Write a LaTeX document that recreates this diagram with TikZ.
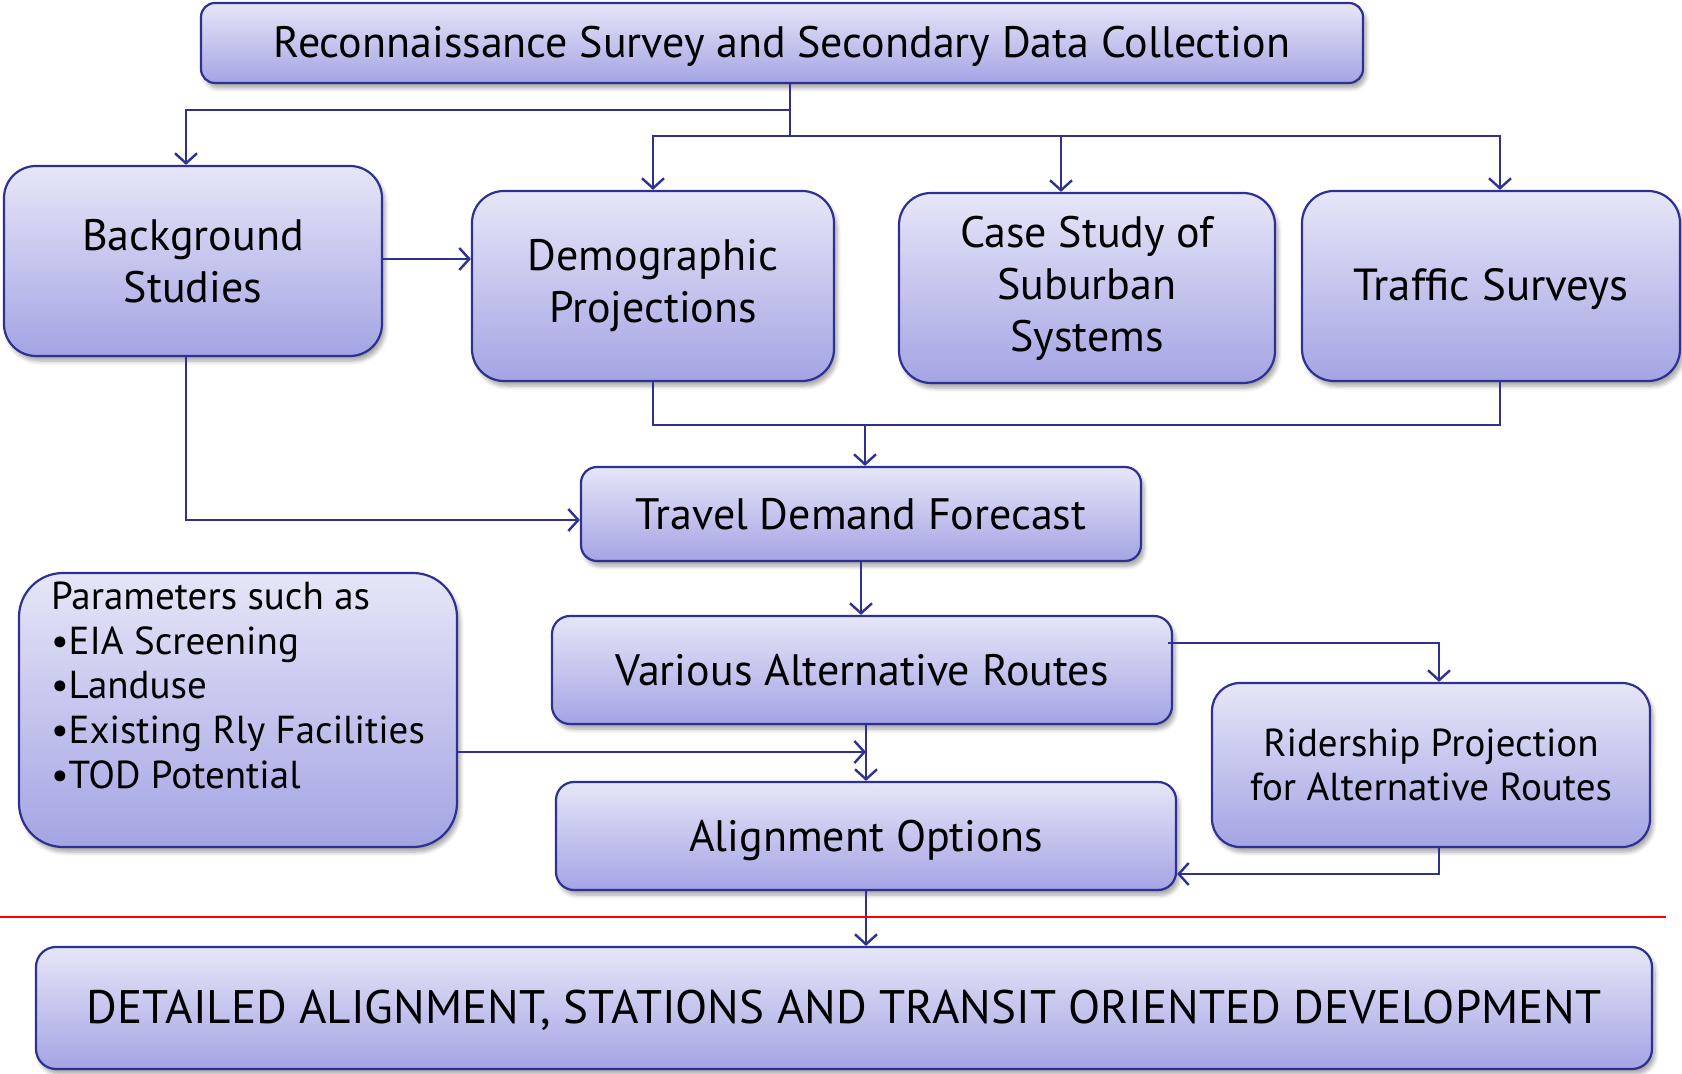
\documentclass[tikz,border=0pt]{standalone}
\usepackage{fontspec}
\setmainfont{PT Sans}
\usetikzlibrary{arrows.meta,shadows.blur}
\definecolor{boxline}{RGB}{46,49,146}
\definecolor{boxtop}{RGB}{230,230,248}
\definecolor{boxbot}{RGB}{164,164,228}
\tikzset{
  box/.style={draw=boxline,line width=1.1pt,top color=boxtop,bottom color=boxbot,
    align=center,text=black,inner sep=0pt,
    blur shadow={shadow xshift=1.5pt,shadow yshift=-2.5pt,shadow blur steps=6,shadow opacity=35}},
  oneline/.style={text height=20pt,text depth=5pt},
  link/.style={draw=boxline,line width=1.2pt},
  arr/.style={link,-{Straight Barb[length=5pt,width=11pt]}}
}
\begin{document}
\begin{tikzpicture}[x=0.5pt,y=-0.5pt]
  \useasboundingbox (0,0) rectangle (1682,1074);
  \node [box,oneline,minimum width=581pt,minimum height=40pt,rounded corners=7pt,
    font=\fontsize{22}{26}\selectfont] (rsd) at (782,43) {Reconnaissance Survey and Secondary Data Collection};
  \node [box,minimum width=189pt,minimum height=95pt,rounded corners=16pt,
    font=\fontsize{22}{26}\selectfont] (bgs) at (193,261) {Background\\Studies};
  \node [box,minimum width=181pt,minimum height=95pt,rounded corners=16pt,
    font=\fontsize{22}{26}\selectfont] (dem) at (653,286) {Demographic\\Projections};
  \node [box,minimum width=188pt,minimum height=95pt,rounded corners=16pt,
    font=\fontsize{22}{26}\selectfont] (css) at (1087,288) {Case Study of\\Suburban\\Systems};
  \node [box,oneline,minimum width=189pt,minimum height=95pt,rounded corners=16pt,
    font=\fontsize{22.5}{26}\selectfont] (trs) at (1491,286) {Traffic Surveys};
  \node [box,minimum width=280pt,minimum height=47pt,rounded corners=8pt,
    font=\fontsize{22}{26}\selectfont] (tdf) at (861,514) {Travel Demand Forecast};
  \node [box,minimum width=219pt,minimum height=137pt,rounded corners=22pt,
    font=\fontsize{19.5}{22.3}\selectfont] (par) at (238,710)
    {\begin{minipage}[c][128pt][t]{187pt}\raggedright Parameters such as\\
      •EIA Screening\\•Landuse\\•Existing Rly Facilities\\•TOD Potential\end{minipage}};
  \node [box,minimum width=310pt,minimum height=54pt,rounded corners=9pt,
    font=\fontsize{22}{26}\selectfont] (var) at (862,670) {Various Alternative Routes};
  \node [box,minimum width=219pt,minimum height=82pt,rounded corners=14pt,
    font=\fontsize{19.5}{22}\selectfont] (rid) at (1431,765) {Ridership Projection\\for Alternative Routes};
  \node [box,oneline,minimum width=310pt,minimum height=54pt,rounded corners=9pt,
    font=\fontsize{22}{26}\selectfont] (aln) at (866,836) {Alignment Options};
  \node [box,oneline,minimum width=808pt,minimum height=61pt,rounded corners=10pt,
    font=\fontsize{23.5}{26}\selectfont] (det) at (844,1008) {DETAILED ALIGNMENT, STATIONS AND TRANSIT ORIENTED DEVELOPMENT};
  \coordinate (fk1) at (790,110);
  \coordinate (fk2) at (790,136);
  \coordinate (fk3) at (865,425);
  \draw [link] ([xshift=4pt]rsd.south) -- (fk2);
  \draw [arr] (fk1) -| ([xshift=-3.5pt]bgs.north);
  \draw [arr] (fk2) -| (dem.north);
  \draw [arr] (fk2) -| ([xshift=-13pt]css.north);
  \draw [arr] (fk2) -| ([xshift=4.5pt]trs.north);
  \draw [arr] ([yshift=1pt]bgs.east) -- ([yshift=1pt]bgs.east -| dem.west);
  \draw [link] (dem.south) |- (fk3) -| ([xshift=4.5pt]trs.south);
  \draw [arr] (fk3) -- (fk3 |- tdf.north);
  \draw [arr] ([xshift=-3.5pt]bgs.south) |- ([yshift=-3pt]tdf.west);
  \draw [arr] (tdf.south) -- (tdf.south |- var.north);
  \draw [arr] (var.south -| aln.north) -- (aln.north);
  \draw [arr] ([yshift=-21pt]par.east) -- ([yshift=-21pt]par.east -| aln.north);
  \draw [arr] ([xshift=-2.5pt,yshift=13.5pt]var.east) -| ([xshift=4pt]rid.north);
  \draw [arr] ([xshift=4pt]rid.south) |- ([yshift=-19pt]aln.east);
  \draw [arr] (aln.south) -- (aln.south |- det.north);
  \draw [red,line width=0.8pt] (0,917) -- (1666,917);
\end{tikzpicture}
\end{document}
